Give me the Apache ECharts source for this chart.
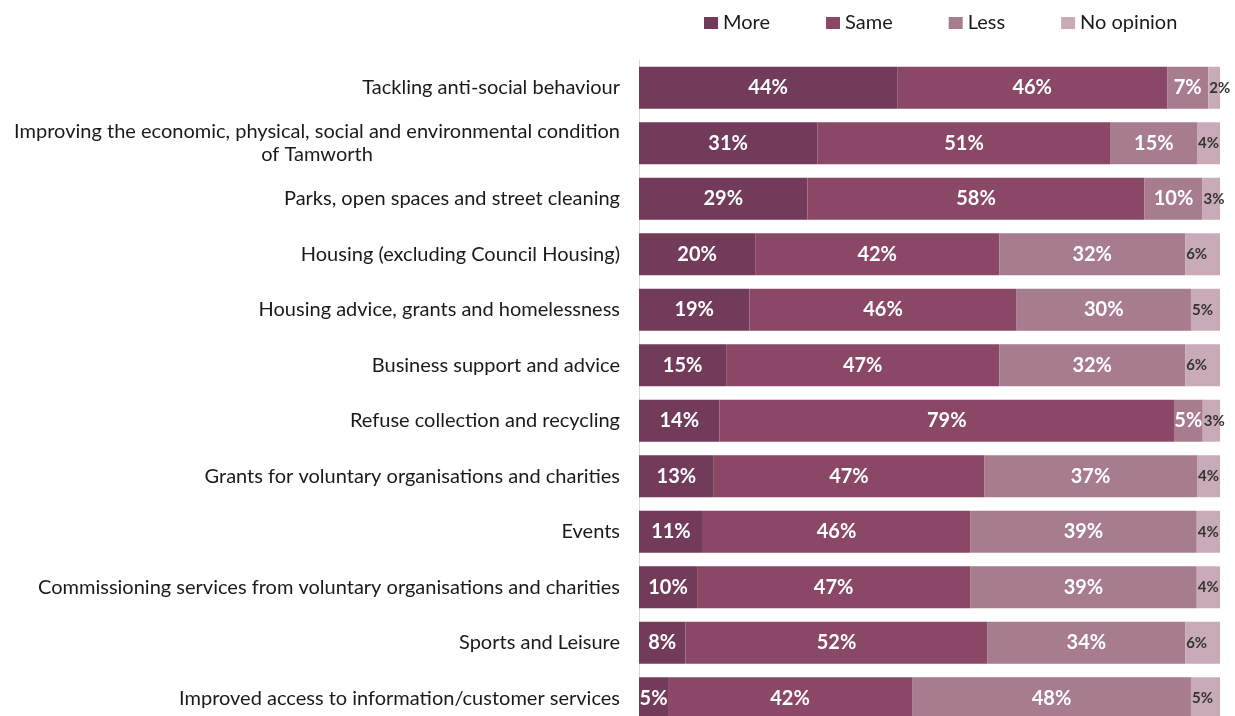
<!DOCTYPE html>
<html>
<head>
<meta charset="utf-8">
<script src="https://cdn.jsdelivr.net/npm/echarts@6/dist/echarts.min.js"></script>
<style>html,body{margin:0;padding:0;background:#fff;overflow:hidden}#c{width:1235px;height:726px}</style>
</head>
<body>
<div id="c"></div>
<script>
var categories = [
  "Tackling anti-social behaviour",
  "Improving the economic, physical, social and environmental condition\nof Tamworth",
  "Parks, open spaces and street cleaning",
  "Housing (excluding Council Housing)",
  "Housing advice, grants and homelessness",
  "Business support and advice",
  "Refuse collection and recycling",
  "Grants for voluntary organisations and charities",
  "Events",
  "Commissioning services from voluntary organisations and charities",
  "Sports and Leisure",
  "Improved access to information/customer services"
];
var seriesNames = ["More", "Same", "Less", "No opinion"];
var more = [44, 31, 29, 20, 19, 15, 14, 13, 11, 10, 8, 5];
var same = [46, 51, 58, 42, 46, 47, 79, 47, 46, 47, 52, 42];
var less = [7, 15, 10, 32, 30, 32, 5, 37, 39, 39, 34, 48];
var noOpinion = [2, 4, 3, 6, 5, 6, 3, 4, 4, 4, 6, 5];
var colors = ["#723b5a", "#8a4766", "#a77c8f", "#c9abb8"];

var raw = [more, same, less, noOpinion];
var totals = categories.map(function (c, i) {
  return more[i] + same[i] + less[i] + noOpinion[i];
});
var FONT = "Lato";

var series = raw.map(function (arr, s) {
  var last = s === 3;
  return {
    name: seriesNames[s],
    type: "bar",
    stack: "all",
    barWidth: 42,
    itemStyle: { color: colors[s] },
    label: {
      show: true,
      position: last ? "insideLeft" : "inside",
      distance: last ? 1 : 5,
      color: last ? "#333333" : "#ffffff",
      fontFamily: FONT,
      fontWeight: "bold",
      fontSize: last ? 15 : 20,
      formatter: function (p) { return arr[p.dataIndex] + "%"; }
    },
    data: arr.map(function (v, i) { return v / totals[i] * 100; })
  };
});

var chart = echarts.init(document.getElementById("c"));
chart.setOption({
  animation: false,
  legend: {
    top: 8,
    left: 699,
    itemWidth: 14,
    itemHeight: 12,
    itemGap: 56,
    icon: "rect",
    textStyle: { fontFamily: FONT, fontSize: 20, color: "#1a1a1a" },
    data: seriesNames
  },
  grid: { left: 639, right: 15, top: 60, bottom: 0, containLabel: false },
  xAxis: { type: "value", min: 0, max: 100, show: false },
  yAxis: {
    type: "category",
    inverse: true,
    data: categories,
    axisLine: { show: true, lineStyle: { color: "#d9d9d9" } },
    axisTick: { show: false },
    axisLabel: {
      margin: 19,
      fontFamily: FONT,
      fontSize: 20,
      color: "#1a1a1a",
      lineHeight: 23,
      formatter: function (v) {
        return v.split("\n").map(function (l) { return "{c|" + l + "}"; }).join("\n");
      },
      rich: { c: { align: "center", fontFamily: FONT, fontSize: 20, color: "#1a1a1a", lineHeight: 23 } }
    }
  },
  series: series
});
</script>
</body>
</html>
